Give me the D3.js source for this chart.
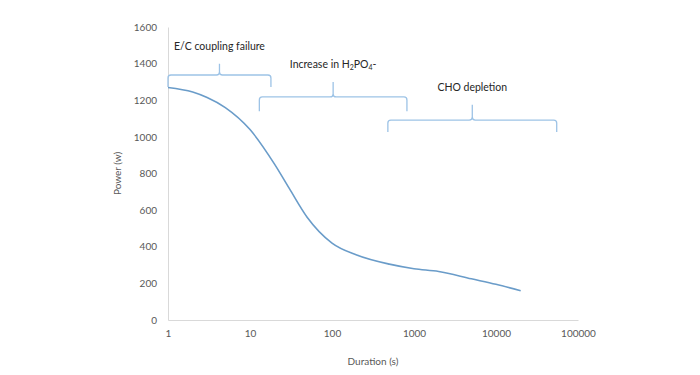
<!DOCTYPE html>
<html>
<head>
<meta charset="utf-8">
<script src="https://cdn.jsdelivr.net/npm/d3@7"></script>
<style>
  body { margin: 0; background: #fff; }
  svg text { font-family: Lato, "Open Sans", sans-serif; }
</style>
</head>
<body>
<div id="chart"></div>
<script>
// power-duration curve
const duration = [1, 2, 3, 5, 10, 20, 30, 50, 100, 200, 500, 1000, 2000, 5000, 10000, 20000];
const power = [1270, 1245, 1215, 1160, 1040, 850, 720, 560, 420, 355, 305, 280, 265, 225, 195, 160];

const xTicks = [1, 10, 100, 1000, 10000, 100000];
const yTicks = [0, 200, 400, 600, 800, 1000, 1200, 1400, 1600];

// annotation brackets: [from s, to s, bottom power, bar power, label]
const bracketFrom = [1, 13, 480];
const bracketTo = [18, 820, 55000];
const bracketBottom = [1272, 1140, 1027];
const bracketBar = [1338, 1218, 1092];
const bracketTip = [1400, 1300, 1175];
const bracketLabels = ["E/C coupling failure", "Increase  in H2PO4-", "CHO depletion"];

const width = 700, height = 375;
const margin = {top: 27, right: 122, bottom: 55, left: 168};

const svg = d3.select("#chart").append("svg")
    .attr("width", width)
    .attr("height", height);

const x = d3.scaleLog()
    .domain([1, 100000])
    .range([margin.left, width - margin.right]);

const y = d3.scaleLinear()
    .domain([0, 1600])
    .range([height - margin.bottom, margin.top]);

// axes
const xAxis = svg.append("g")
    .attr("transform", `translate(0,${y(0)})`)
    .call(d3.axisBottom(x).tickValues(xTicks).tickFormat(d3.format("d")).tickSize(0).tickPadding(10));
xAxis.select(".domain").attr("stroke", "#d9d9d9");
xAxis.selectAll("text").attr("fill", "#595959").style("font-size", "10px");

const yAxis = svg.append("g")
    .attr("transform", `translate(${x(1)},0)`)
    .call(d3.axisLeft(y).tickValues(yTicks).tickFormat(d3.format("d")).tickSize(0).tickPadding(11));
yAxis.select(".domain").attr("stroke", "#d9d9d9");
yAxis.selectAll("text").attr("fill", "#595959").style("font-size", "10px");

svg.append("text")
    .attr("x", (x(1) + x(100000)) / 2)
    .attr("y", 365)
    .attr("text-anchor", "middle")
    .attr("fill", "#595959")
    .style("font-size", "10px")
    .text("Duration (s)");

svg.append("text")
    .attr("transform", `translate(121,${y(800)}) rotate(-90)`)
    .attr("text-anchor", "middle")
    .attr("fill", "#595959")
    .style("font-size", "10px")
    .text("Power (w)");

// curve
const line = d3.line()
    .x((d, i) => x(d))
    .y((d, i) => y(power[i]))
    .curve(d3.curveMonotoneX);

svg.append("path")
    .attr("d", line(duration))
    .attr("fill", "none")
    .attr("stroke", "#6a9cc9")
    .attr("stroke-width", 1.6);

// brackets
bracketLabels.forEach((label, i) => {
    const x0 = x(bracketFrom[i]), x1 = x(bracketTo[i]);
    const yb = y(bracketBottom[i]), yh = y(bracketBar[i]), yt = y(bracketTip[i]);
    const mid = (x0 + x1) / 2;
    const r = 3;
    const p = d3.path();
    p.moveTo(x0, yb);
    p.lineTo(x0, yh + r);
    p.quadraticCurveTo(x0, yh, x0 + r, yh);
    p.lineTo(mid - r, yh);
    p.quadraticCurveTo(mid, yh, mid, yh - r);
    p.lineTo(mid, yt);
    p.moveTo(mid, yh - r);
    p.quadraticCurveTo(mid, yh, mid + r, yh);
    p.lineTo(x1 - r, yh);
    p.quadraticCurveTo(x1, yh, x1, yh + r);
    p.lineTo(x1, yb);
    svg.append("path")
        .attr("d", p.toString())
        .attr("fill", "none")
        .attr("stroke", "#9dc3e6")
        .attr("stroke-width", 1.3);

    const t = svg.append("text")
        .attr("x", mid)
        .attr("y", yt - 14)
        .attr("text-anchor", "middle")
        .attr("fill", "#262626")
        .style("font-size", "10.5px");
    if (i === 1) {
        t.append("tspan").text("Increase  in H");
        t.append("tspan").attr("dy", 2).style("font-size", "7px").text("2");
        t.append("tspan").attr("dy", -2).text("PO");
        t.append("tspan").attr("dy", 2).style("font-size", "7px").text("4");
        t.append("tspan").attr("dy", -2).text("-");
    } else {
        t.text(label);
    }
});
</script>
</body>
</html>
